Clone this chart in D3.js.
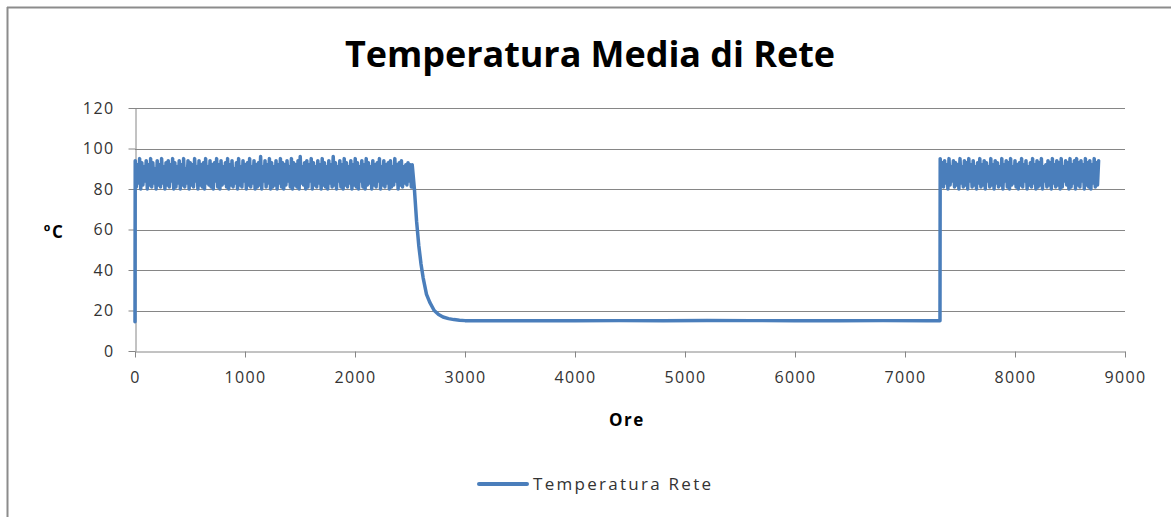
<!DOCTYPE html>
<html>
<head>
<meta charset="utf-8">
<script src="https://cdn.jsdelivr.net/npm/d3@7"></script>
<style>
  html, body { margin: 0; padding: 0; background: #ffffff; }
  svg { display: block; }
  text { font-family: "Open Sans", Lato, sans-serif; }
</style>
</head>
<body>
<svg id="chart" width="1171" height="517"></svg>
<script>
// ---------------- DATA ----------------
const chartTitle = "Temperatura Media di Rete";
const xAxisTitle = "Ore";
const yAxisTitle = "ºC";
const seriesName = "Temperatura Rete";

const xTicks = [0, 1000, 2000, 3000, 4000, 5000, 6000, 7000, 8000, 9000];
const yTicks = [0, 20, 40, 60, 80, 100, 120];

// start-up point (hour 0)
const startHours = [0];
const startValues = [14.5];

// winter operation, hours 2 .. 2512 every 10 h
const winterStart = 2;
const winterStep = 10;
const winterValues = [
  94,81,92,83,95,80,93,82,91,84,94,80,
  92,82,95,81,93,83,90,80,94,82,92,81,
  95,83,91,80,93,82,94,81,92,84,95,80,
  93,81,91,83,94,80,92,82,95,81,90,83,
  94,80,93,82,92,81,95,84,91,80,94,82,
  92,81,93,80,95,83,91,82,94,81,92,80,
  93,84,95,81,92,80,94,82,91,83,93,81,
  95,80,92,82,94,81,90,83,93,80,95,82,
  91,81,94,84,92,80,93,82,95,81,91,83,
  94,80,92,81,93,82,96,80,91,84,94,81,
  92,83,95,80,93,81,91,82,94,80,92,83,
  95,81,93,80,92,82,94,84,91,81,95,80,
  93,82,92,81,94,80,96,83,91,82,93,80,
  94,81,92,84,95,80,93,82,91,81,94,83,
  92,80,95,82,93,81,91,80,94,83,92,81,
  96,82,93,80,91,84,94,81,92,80,95,82,
  93,81,91,83,94,80,92,82,95,81,93,80,
  91,84,94,81,92,80,95,82,93,83,91,80,
  94,82,92,81,93,84,95,80,91,82,94,81,
  92,83,93,80,94,81,91,82,95,84,92,80,
  93,82,94,81,91,83,92,82,93,84,92,81
];

// cool-down after switch-off
const decayHours  = [2520, 2540, 2560, 2580, 2600, 2620, 2650, 2680, 2720, 2760, 2800, 2850, 2900, 2950, 3000];
const decayValues = [92,   80,   64,   52,   43,   36,   28,   24,   20,   18,   16.8, 16,   15.5, 15.2, 15];

// summer standstill
const flatHours  = [3200, 3600, 4000, 4400, 4800, 5200, 5600, 6000, 6400, 6800, 7200, 7318];
const flatValues = [15,   15,   14.9, 15,   15,   15.1, 15,   15,   14.9, 15,   15,   15];

// winter operation again, hours 7320 .. 8760 every 10 h
const winter2Start = 7320;
const winter2Step = 10;
const winter2Values = [
  95,82,93,81,94,83,92,80,95,82,91,84,
  94,81,93,82,92,80,95,83,91,81,94,82,
  93,80,95,84,92,81,94,82,91,80,93,83,
  95,81,92,82,94,80,93,84,91,81,95,82,
  92,80,94,83,93,81,91,82,95,80,92,84,
  94,81,93,80,95,82,91,83,94,81,92,80,
  93,82,95,81,92,84,94,80,91,82,93,81,
  95,83,92,80,94,81,93,82,95,80,91,84,
  92,81,94,82,93,80,95,83,92,81,94,82,
  93,80,95,81,91,84,94,82,93,80,95,81,
  92,83,94,80,95,82,93,81,94,84,92,80,
  95,82,93,81,94,80,92,83,95,81,93,82,
  94
];

// ---------------- BUILD SERIES ----------------
const points = [];
startHours.forEach((h, i) => points.push([h, startValues[i]]));
winterValues.forEach((v, i) => points.push([winterStart + i * winterStep, v]));
decayHours.forEach((h, i) => points.push([h, decayValues[i]]));
flatHours.forEach((h, i) => points.push([h, flatValues[i]]));
winter2Values.forEach((v, i) => points.push([winter2Start + i * winter2Step, v]));

// ---------------- LAYOUT ----------------
const W = 1171, H = 517;
const plot = { left: 135, right: 1125, top: 108, bottom: 351 };
const gridColor = "#868686";
const lineColor = "#4a7ebb";
const tickFont = "'Open Sans', Lato, sans-serif";

const svg = d3.select("#chart");

// outer chart border (top & left visible)
svg.append("line").attr("x1", 7).attr("x2", W).attr("y1", 7.5).attr("y2", 7.5)
  .attr("stroke", "#8c8c8c").attr("stroke-width", 2);
svg.append("line").attr("x1", 7.5).attr("x2", 7.5).attr("y1", 7).attr("y2", H)
  .attr("stroke", "#8c8c8c").attr("stroke-width", 2);

const x = d3.scaleLinear().domain([0, 9000]).range([plot.left, plot.right]);
const y = d3.scaleLinear().domain([0, 120]).range([plot.bottom, plot.top]);

// gridlines
svg.append("g")
  .selectAll("line")
  .data(yTicks.filter(t => t > 0))
  .join("line")
  .attr("x1", plot.left).attr("x2", plot.right)
  .attr("y1", d => Math.round(y(d)) + 0.5).attr("y2", d => Math.round(y(d)) + 0.5)
  .attr("stroke", gridColor).attr("stroke-width", 1);

// y axis
const yAxis = svg.append("g")
  .attr("transform", `translate(${plot.left + 0.5},0)`)
  .call(d3.axisLeft(y).tickValues(yTicks).tickFormat(d3.format("d")).tickSize(7).tickPadding(14).tickSizeOuter(0));
yAxis.select(".domain").attr("stroke", gridColor);
yAxis.selectAll(".tick line").attr("stroke", gridColor);
yAxis.selectAll(".tick text")
  .attr("font-family", tickFont)
  .attr("font-size", 16).attr("letter-spacing", 1.4).attr("fill", "#333333");

// x axis
const xAxis = svg.append("g")
  .attr("transform", `translate(0,${Math.round(plot.bottom) + 0.5})`)
  .call(d3.axisBottom(x).tickValues(xTicks).tickFormat(d3.format("d")).tickSize(6).tickPadding(14).tickSizeOuter(0));
xAxis.select(".domain").attr("stroke", gridColor);
xAxis.selectAll(".tick line").attr("stroke", gridColor);
xAxis.selectAll(".tick text")
  .attr("font-family", tickFont)
  .attr("font-size", 16).attr("letter-spacing", 1.4).attr("fill", "#333333");

// series line
const line = d3.line().x(d => x(d[0])).y(d => y(d[1]));
svg.append("path")
  .datum(points)
  .attr("d", line)
  .attr("fill", "none")
  .attr("stroke", lineColor)
  .attr("stroke-width", 3.5)
  .attr("stroke-linejoin", "round")
  .attr("stroke-linecap", "round");

// title
svg.append("text")
  .attr("x", 590).attr("y", 67)
  .attr("text-anchor", "middle")
  .attr("font-family", "Lato, 'Open Sans', sans-serif")
  .attr("font-size", 36).attr("font-weight", "bold").attr("fill", "#000")
  .attr("textLength", 490).attr("lengthAdjust", "spacing")
  .text(chartTitle);

// axis titles
svg.append("text")
  .attr("x", 54).attr("y", 238)
  .attr("text-anchor", "middle")
  .attr("font-size", 17).attr("font-weight", "bold").attr("fill", "#000")
  .attr("letter-spacing", 1.5)
  .text(yAxisTitle);

svg.append("text")
  .attr("x", 627).attr("y", 426)
  .attr("text-anchor", "middle")
  .attr("font-size", 17).attr("font-weight", "bold").attr("fill", "#000")
  .attr("letter-spacing", 1.5)
  .text(xAxisTitle);

// legend
svg.append("line")
  .attr("x1", 479).attr("x2", 527)
  .attr("y1", 484).attr("y2", 484)
  .attr("stroke", lineColor).attr("stroke-width", 4).attr("stroke-linecap", "round");
svg.append("text")
  .attr("x", 533).attr("y", 490)
  .attr("font-size", 17).attr("fill", "#333333")
  .attr("textLength", 178).attr("lengthAdjust", "spacing")
  .text(seriesName);
</script>
</body>
</html>
